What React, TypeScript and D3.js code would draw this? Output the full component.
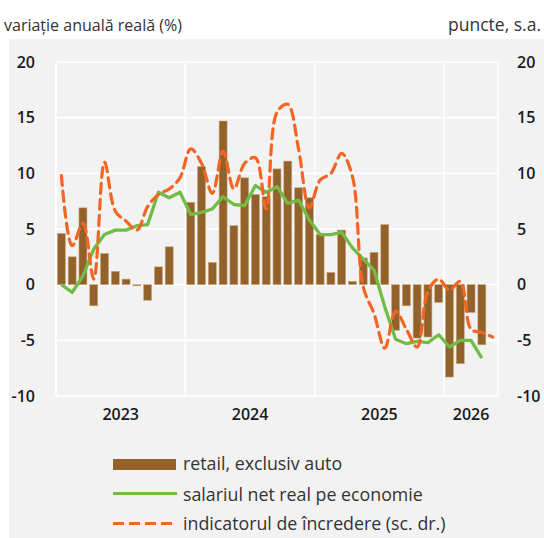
import React from 'react';
import * as d3 from 'd3';

const months = [
  '2023-01','2023-02','2023-03','2023-04','2023-05','2023-06','2023-07','2023-08','2023-09','2023-10','2023-11','2023-12',
  '2024-01','2024-02','2024-03','2024-04','2024-05','2024-06','2024-07','2024-08','2024-09','2024-10','2024-11','2024-12',
  '2025-01','2025-02','2025-03','2025-04','2025-05','2025-06','2025-07','2025-08','2025-09','2025-10','2025-11','2025-12',
  '2026-01','2026-02','2026-03','2026-04','2026-05',
];
const years = ['2023', '2024', '2025', '2026'];

const retail: (number | null)[] = [
  4.6, 2.5, 6.9, -1.9, 2.8, 1.2, 0.5, -0.1, -1.4, 1.6, 3.4, null,
  7.4, 10.6, 2.0, 14.7, 5.3, 9.6, 8.1, 7.9, 10.4, 11.1, 8.7, 7.8,
  4.5, 1.1, 4.9, 0.3, 2.4, 2.9, 5.4, -4.1, -1.9, -4.8, -4.7, -1.6,
  -8.3, -7.1, -2.5, -5.4, null,
];
const salary: (number | null)[] = [
  0.0, -0.7, 0.8, 3.2, 4.5, 4.9, 4.9, 5.3, 5.4, 8.3, 7.8, 8.3,
  6.3, 6.5, 6.8, 7.9, 7.2, 7.1, 8.9, 8.3, 8.8, 7.3, 7.6, 5.8,
  4.5, 4.5, 4.7, 3.3, 2.3, 1.3, -2.0, -4.9, -5.3, -5.1, -5.2, -4.5,
  -5.6, -5.0, -5.0, -6.6, null,
];
const confidence: (number | null)[] = [
  9.8, 3.5, 5.5, 0.5, 11.0, 6.6, 5.7, 4.9, 7.0, 8.1, 8.6, 9.6,
  12.2, 10.9, 8.2, 12.0, 8.6, 10.9, 11.4, 6.8, 15.5, 16.2, 12.2, 6.9,
  9.4, 10.0, 11.8, 9.7, -0.2, -2.6, -5.7, -2.4, -4.0, -5.6, -0.6, 0.5,
  -0.5, 0.3, -4.0, -4.3, -4.7,
];
const yTicks = [-10, -5, 0, 5, 10, 15, 20];
const legendLabels = [
  'retail, exclusiv auto',
  'salariul net real pe economie',
  'indicatorul de încredere (sc. dr.)',
];
const leftTitle = 'variație anuală reală (%)';
const rightTitle = 'puncte, s.a.';

const BROWN = '#93622a';
const GREEN = '#70bc45';
const ORANGE = '#f26524';
const FONT = "'Open Sans', 'Noto Sans', sans-serif";

export default function App() {
  const W = 544;
  const H = 538;
  const left = 56;
  const right = 498;
  const top = 62;
  const bottom = 396;

  const x = d3
    .scaleBand<string>()
    .domain(months)
    .range([left, right])
    .paddingInner(0.26)
    .paddingOuter(0.13);
  const y = d3.scaleLinear().domain([-10, 20]).range([bottom, top]);
  const step = x.step();
  const slotStart = (m: string) => (x(m) as number) - (step - x.bandwidth()) / 2;
  const cx = (m: string) => (x(m) as number) + x.bandwidth() / 2;

  const salaryPts = months.map((m, i) => [m, salary[i]] as [string, number | null]);
  const confPts = months.map((m, i) => [m, confidence[i]] as [string, number | null]);

  const greenLine = d3
    .line<[string, number | null]>()
    .defined((d) => d[1] != null)
    .x((d) => cx(d[0]))
    .y((d) => y(d[1] as number));
  const orangeLine = d3
    .line<[string, number | null]>()
    .defined((d) => d[1] != null)
    .x((d) => cx(d[0]))
    .y((d) => y(d[1] as number))
    .curve(d3.curveCatmullRom.alpha(0.5));

  const yearInfo = years.map((yr) => {
    const ms = months.filter((m) => m.startsWith(yr));
    const s = slotStart(ms[0]);
    const e = slotStart(ms[ms.length - 1]) + step;
    return { yr, s, e, c: (s + e) / 2 };
  });

  return (
    <svg
      width={W}
      height={H}
      style={{ position: 'absolute', left: 0, top: 0, background: '#ffffff' }}
      fontFamily={FONT}
    >
      <rect x={9} y={39} width={W - 9} height={H - 39} fill="#f2f2f2" />

      <text x={4} y={31} fontSize={16} fill="#333">
        {leftTitle}
      </text>
      <text x={541} y={31} fontSize={17.5} fill="#333" textAnchor="end">
        {rightTitle}
      </text>

      {/* horizontal gridlines */}
      {yTicks.map((t) => (
        <line key={'h' + t} x1={left} x2={right} y1={y(t)} y2={y(t)} stroke="#ffffff" strokeWidth={1.6} />
      ))}
      {/* vertical frame & year separators */}
      {[left, ...yearInfo.slice(1).map((d) => d.s), right].map((xx, i) => (
        <line key={'v' + i} x1={xx} x2={xx} y1={top} y2={bottom} stroke="#ffffff" strokeWidth={1.6} />
      ))}

      {/* bars */}
      {months.map((m, i) => {
        const v = retail[i];
        if (v == null) return null;
        const y0 = y(0);
        const yv = y(v);
        return (
          <rect
            key={'b' + m}
            x={x(m)}
            y={Math.min(y0, yv)}
            width={x.bandwidth()}
            height={Math.abs(yv - y0)}
            fill={BROWN}
            stroke="#c9a77f"
            strokeWidth={0.6}
          />
        );
      })}

      <path d={greenLine(salaryPts) || ''} fill="none" stroke={GREEN} strokeWidth={3.3} strokeLinejoin="round" />
      <path
        d={orangeLine(confPts) || ''}
        fill="none"
        stroke={ORANGE}
        strokeWidth={3.2}
        strokeDasharray="10,6"
        strokeLinecap="round"
      />

      {/* left axis labels */}
      {yTicks.map((t) => (
        <text key={'l' + t} x={35} y={y(t)} dy="0.36em" fontSize={16} fontWeight={600} fill="#1a1a1a" textAnchor="end">
          {t}
        </text>
      ))}
      {/* right axis labels */}
      {yTicks.map((t) => (
        <text key={'r' + t} x={517} y={y(t)} dy="0.36em" fontSize={16} fontWeight={600} fill="#1a1a1a">
          {t}
        </text>
      ))}
      {/* year labels */}
      {yearInfo.map((d) => (
        <text key={'y' + d.yr} x={d.c} y={420} fontSize={16} fontWeight={600} fill="#1a1a1a" textAnchor="middle">
          {d.yr}
        </text>
      ))}

      {/* legend */}
      <rect x={113} y={459} width={63} height={11} fill={BROWN} />
      <text x={183} y={470} fontSize={17.8} fill="#333">
        {legendLabels[0]}
      </text>
      <line x1={113} x2={177} y1={493.5} y2={493.5} stroke={GREEN} strokeWidth={3} />
      <text x={183} y={500.5} fontSize={17.8} fill="#333">
        {legendLabels[1]}
      </text>
      <line x1={113} x2={172} y1={523.5} y2={523.5} stroke={ORANGE} strokeWidth={3} strokeDasharray="11,5" />
      <text x={183} y={529.5} fontSize={17.8} fill="#333">
        {legendLabels[2]}
      </text>
    </svg>
  );
}
